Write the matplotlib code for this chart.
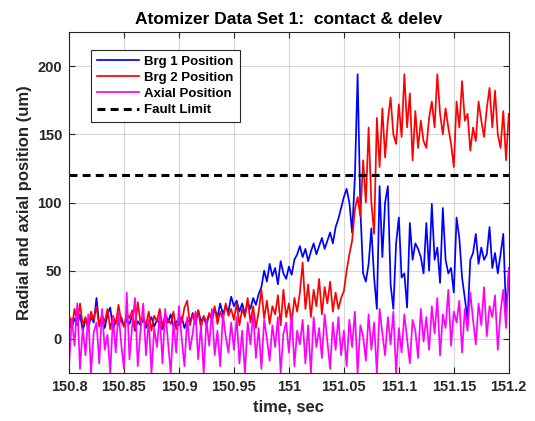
import numpy as np
import matplotlib
matplotlib.use('Agg')
import matplotlib.pyplot as plt

plt.rcParams['font.family'] = ['Liberation Sans', 'DejaVu Sans']

# sampled window (sec) and fault threshold (um)
t_start = 150.8
t_end = 151.2
fault_limit = 120

# Brg 1 radial position (um)
brg1 = [12, 8, 15, 10, 18, 6, 14, 9, 16, 12,
        30, 10, 14, 8, 18, 23, 7, 13, 10, 16,
        9, 14, 11, 17, 6, 13, 10, 15, 8, 12,
        16, 9, 14, 11, 7, 15, 12, 18, 9, 13,
        10, 16, 8, 14, 12, 19, 11, 21, 13, 16,
        10, 18, 14, 22, 16, 26, 18, 24, 20, 31,
        24, 28, 20, 26, 18, 27, 22, 30, 25, 33, 38,
        50, 42, 55, 46, 52, 40, 57, 48, 44, 53, 47, 58, 62, 68,
        60, 66, 57, 64, 70, 62, 68, 74, 66, 72, 78, 70, 82, 88,
        96, 104, 110, 100, 78, 118, 194, 95,
        48, 42, 55, 81, 45, 22, 112, 60, 100, 112,
        40, 22, 70, 89, 45, 48, 23, 85, 58, 70,
        66, 60, 48, 85, 50, 99, 58, 67, 41, 96,
        58, 48, 52, 34, 89, 74, 45, 30, 14, 58,
        63, 77, 55, 67, 58, 62, 82, 52, 63, 48,
        62, 77, 20, 48]

# Brg 2 radial position (um)
brg2 = [18, 8, 22, 12, 26, 10, 16, 6, 20, 14,
        24, 9, 18, 12, 22, 7, 17, 11, 25, 13,
        9, 19, 15, 21, 8, 27, 12, 16, 10, 20,
        6, 17, 13, 22, 9, 18, 14, 11, 20, 7,
        16, 12, 23, 28, 10, 18, 13, 21, 8, 17,
        12, 19, 15, 24, 11, 20, 14, 26, 17, 22,
        14, 26, 10, 22, 16, 30, 12, 24, 8, 20,
        36, 15, 28, 11, 24, 18, 32, 10, 36, 16,
        26, 12, 30, 20, 34,
        56, 22, 40, 16, 36, 24, 44, 18, 38, 26, 42, 20, 34, 22, 30,
        35, 50, 62, 72, 95, 104, 90, 131, 100, 155,
        100, 77, 162, 126, 169, 133, 160, 177, 150, 143,
        172, 148, 194, 155, 180, 131, 167, 140, 160, 145,
        140, 162, 174, 155, 194, 165, 150, 169, 155, 143,
        126, 174, 155, 189, 160, 165, 138, 155, 145, 174,
        160, 148, 169, 184, 155, 182, 150, 140, 167, 131,
        165]

# axial position (um)
axial = [-20, 15, -5, 26, -22, 8, -12, 18, -25, 5,
         12, -18, 22, -8, 3, -25, 16, -10, 20, -4,
         -22, 34, -15, 10, 30, -20, 6, 26, -12, 14,
         -25, 8, -6, 18, -18, 22, -2, -25, 12, -10,
         24, 0, -20, 16, -8, 4, 20, -15, 10, -25,
         14, -5, 22, -12, 6, -20, 18, 2, -10, 12,
         -8, 16, -18, 6, -25, 12, -4, 18, -14, 8,
         -22, 14, 0, -16, 10, -6, 16, -25, 4, 12,
         -10, 18, -20, 6, -4, 14, -18, 10, -25, 16,
         -6, 8, -14, 18, -2, -22, 12, -8, 16, -12,
         6, -20, 14, -6, 20, -25, 10, 2, -16, 18,
         -8, 12, -25, 22, 4, -12, 16, -4, 20, -25,
         8, -10, 18, 0, -18, 14, 6, -14, 22, -2,
         16, -8, 24, 4, 30, -12, 18, 8, 36, -5,
         20, 12, 28, -10, 22, 6, 34, 14, -4, 26,
         10, 38, 2, 24, 16, 32, -8, 20, 36, 8,
         52]

xticks = [150.8, 150.85, 150.9, 150.95, 151, 151.05, 151.1, 151.15, 151.2]
xticklabels = ['150.8', '150.85', '150.9', '150.95', '151', '151.05', '151.1', '151.15', '151.2']
yticks = [0, 50, 100, 150, 200]

t = np.linspace(t_start, t_end, len(brg1))
dark = (0.15, 0.15, 0.15)

fig = plt.figure(figsize=(5.35, 4.21), dpi=100)
ax = fig.add_axes([0.129, 0.114, 0.822, 0.810])

ax.plot(t, brg1, color=(0, 0, 1), lw=1.25, label='Brg 1 Position')
ax.plot(t, brg2, color=(1, 0, 0), lw=1.25, label='Brg 2 Position')
ax.plot(t, axial, color=(1, 0, 1), lw=1.25, label='Axial Position')
ax.plot([t_start, t_end], [fault_limit, fault_limit], color='k', lw=2.2,
        dashes=(2.6, 1.7), label='Fault Limit')

ax.set_xlim(t_start, t_end)
ax.set_ylim(-25, 225)
ax.set_xticks(xticks)
ax.set_xticklabels(xticklabels)
ax.set_yticks(yticks)

ax.grid(True, color=dark, alpha=0.18, lw=0.8)
ax.tick_params(direction='in', top=True, right=True, length=4,
               color=dark, labelsize=10.5, pad=5)
for lab in ax.get_xticklabels() + ax.get_yticklabels():
    lab.set_fontweight('bold')
    lab.set_color(dark)
for sp in ax.spines.values():
    sp.set_color(dark)
    sp.set_linewidth(0.8)

ax.set_xlabel('time, sec', fontsize=12, fontweight='bold', color=dark)
ax.set_ylabel('Radial and axial position (um)', fontsize=12, fontweight='bold', color=dark)
ax.set_title('Atomizer Data Set 1:  contact & delev', fontsize=12.5, fontweight='bold')

leg = ax.legend(loc='upper left', bbox_to_anchor=(0.035, 0.968),
                prop={'weight': 'bold', 'size': 9.5}, handlelength=3.2,
                labelspacing=0.3, borderpad=0.45, handletextpad=0.4,
                fancybox=False, framealpha=1)
leg.get_frame().set_edgecolor(dark)
leg.get_frame().set_linewidth(0.8)

fig.savefig('out.png', dpi=100)
